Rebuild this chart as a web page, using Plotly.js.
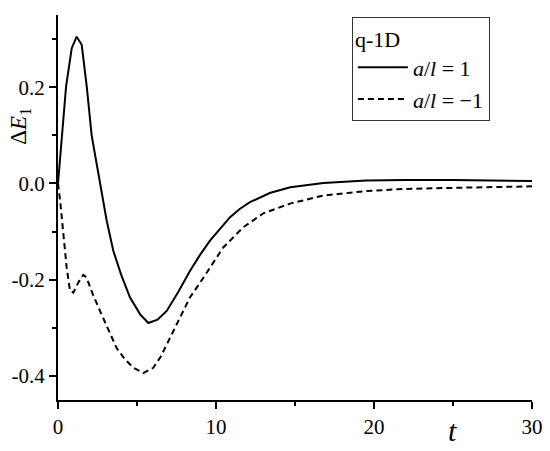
<!DOCTYPE html>
<html>
<head>
<meta charset="utf-8">
<script src="https://cdn.plot.ly/plotly-3.0.1.min.js"></script>
<style>html,body{margin:0;padding:0;background:#fff;}#chart{width:550px;height:451px;}</style>
</head>
<body>
<div id="chart"></div>
<script>
// Series: a/l = 1 (solid)
const tSolid = [0,0.27,0.51,0.87,1.18,1.5,1.82,2.13,2.66,3.08,3.5,4.0,4.56,5.2,5.72,6.3,6.88,7.6,8.35,9.0,9.62,10.3,10.89,11.5,12.15,13.4,14.7,16.8,19.5,22,25,30];
const eSolid = [0,0.10,0.201,0.281,0.305,0.288,0.201,0.10,0,-0.077,-0.14,-0.19,-0.237,-0.272,-0.290,-0.283,-0.265,-0.226,-0.182,-0.148,-0.119,-0.092,-0.070,-0.053,-0.039,-0.020,-0.008,0.001,0.006,0.007,0.007,0.005];
// Series: a/l = -1 (dashed)
const tDash = [0,0.15,0.34,0.55,0.76,0.97,1.3,1.6,1.8,2.2,2.66,3.2,3.71,4.25,4.77,5.4,6.03,6.5,7.09,7.7,8.35,9.2,10.46,11.73,13.0,14.68,16.8,19.5,21.5,23.75,27,30];
const eDash = [0,-0.04,-0.105,-0.175,-0.223,-0.227,-0.205,-0.19,-0.195,-0.23,-0.265,-0.305,-0.342,-0.366,-0.383,-0.394,-0.383,-0.36,-0.321,-0.28,-0.237,-0.196,-0.133,-0.091,-0.062,-0.042,-0.025,-0.016,-0.012,-0.010,-0.008,-0.006];
// Tick labels
const xTickVals = [0,10,20,30];
const xTickText = ["0","10","20","30"];
const yTickVals = [-0.4,-0.2,0,0.2];
const yTickText = ["-0.4","-0.2","0.0","0.2"];
const seriesNames = ["<i>a</i>/<i>l</i> = 1", "<i>a</i>/<i>l</i> = \u22121"];
const legendTitle = "q-1D";

const FONT = "'Liberation Serif', 'Times New Roman', serif";

const traces = [
  {x: tSolid, y: eSolid, mode: "lines", name: seriesNames[0],
   line: {color: "#000", width: 2}},
  {x: tDash, y: eDash, mode: "lines", name: seriesNames[1],
   line: {color: "#000", width: 2, dash: "6px,4px"}}
];

const layout = {
  width: 550, height: 451,
  margin: {l: 58, r: 18, t: 15, b: 51},
  paper_bgcolor: "#fff", plot_bgcolor: "#fff",
  font: {family: FONT, size: 21, color: "#000"},
  showlegend: true,
  legend: {
    x: 0.62, y: 0.995, xanchor: "left", yanchor: "top",
    bordercolor: "#333", borderwidth: 1, bgcolor: "#fff",
    font: {family: FONT, size: 22, color: "#000"},
    title: {text: legendTitle, font: {family: FONT, size: 22, color: "#000"}},
    itemwidth: 50, tracegroupgap: 0
  },
  xaxis: {
    range: [0, 30], showgrid: false, zeroline: false,
    showline: true, linecolor: "#000", linewidth: 2, mirror: false,
    tickmode: "array", tickvals: xTickVals, ticktext: xTickText,
    ticks: "outside", ticklen: 7, tickwidth: 2, tickcolor: "#000",
    minor: {dtick: 5, tick0: 0, ticks: "outside", ticklen: 4, tickwidth: 2, tickcolor: "#000", showgrid: false},
    tickfont: {family: FONT, size: 21, color: "#000"}
  },
  yaxis: {
    range: [-0.45, 0.35], showgrid: false, zeroline: false,
    showline: true, linecolor: "#000", linewidth: 2, mirror: false,
    tickmode: "array", tickvals: yTickVals, ticktext: yTickText,
    ticks: "outside", ticklen: 7, tickwidth: 2, tickcolor: "#000",
    minor: {dtick: 0.1, tick0: 0, ticks: "outside", ticklen: 4, tickwidth: 2, tickcolor: "#000", showgrid: false},
    tickfont: {family: FONT, size: 21, color: "#000"}
  },
  annotations: [
    {text: "\u0394<i>E</i><sub>1</sub>", xref: "paper", yref: "paper",
     x: -0.08, y: 0.71, xanchor: "center", yanchor: "middle",
     textangle: -90, showarrow: false, font: {family: FONT, size: 23, color: "#000"}},
    {text: "<i>t</i>", xref: "paper", yref: "paper",
     x: 0.833, y: -0.08, xanchor: "center", yanchor: "middle",
     showarrow: false, font: {family: FONT, size: 30, color: "#000"}}
  ]
};

Plotly.newPlot("chart", traces, layout, {displayModeBar: false, staticPlot: true});
</script>
</body>
</html>
